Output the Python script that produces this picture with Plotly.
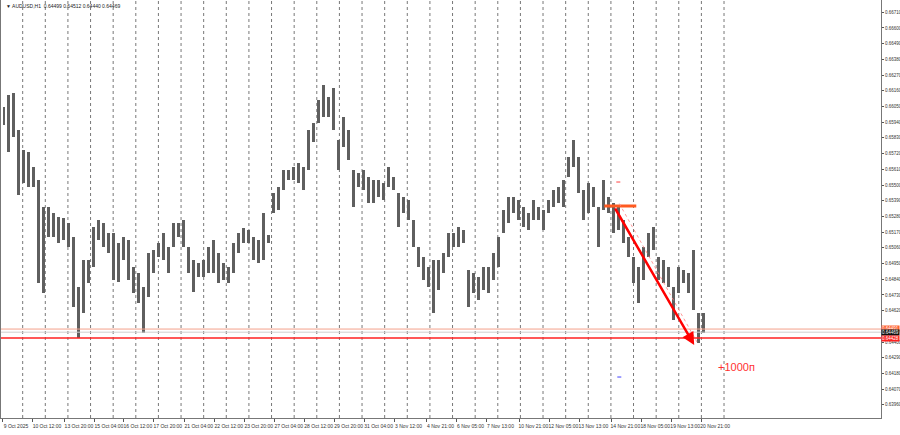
import plotly.graph_objects as go

highs = [0.66046,0.66130,0.66144,0.65885,0.65745,0.65731,0.65626,0.65535,0.65346,0.65346,
0.65304,0.65276,0.65269,0.65234,0.65136,0.64785,0.64974,0.64974,0.65206,0.65255,
0.65234,0.65164,0.65164,0.65094,0.65136,0.65115,0.64925,0.64883,0.64785,0.65023,
0.65044,0.65094,0.65164,0.65066,0.65234,0.65234,0.65255,0.65066,0.64974,0.64953,
0.64974,0.65066,0.65115,0.65023,0.64953,0.64925,0.65094,0.65164,0.65199,0.65185,
0.65136,0.65115,0.65304,0.65150,0.65444,0.65486,0.65605,0.65605,0.65626,0.65654,
0.65626,0.65885,0.65934,0.66095,0.66200,0.66116,0.66179,0.65815,0.65976,0.65885,
0.65605,0.65584,0.65605,0.65556,0.65535,0.65535,0.65514,0.65626,0.65556,0.65444,
0.65416,0.65395,0.65255,0.65066,0.64995,0.64925,0.64974,0.64974,0.65023,0.65164,
0.65164,0.65206,0.65185,0.64904,0.64883,0.64855,0.64925,0.64925,0.65023,0.65136,
0.65325,0.65416,0.65416,0.65395,0.65346,0.65304,0.65395,0.65346,0.65325,0.65395,
0.65465,0.65486,0.65535,0.65696,0.65815,0.65696,0.65465,0.65514,0.65486,0.65346,
0.65535,0.65416,0.65374,0.65346,0.65255,0.65136,0.64995,0.64925,0.65066,0.65164,
0.65206,0.64995,0.64974,0.64925,0.64785,0.64925,0.64904,0.64883,0.65044,0.64603,
0.64603]
lows = [0.65920,0.65731,0.65836,0.65430,0.65514,0.65486,0.65486,0.64813,0.64743,0.65136,
0.65136,0.65094,0.65115,0.65066,0.64645,0.64428,0.64603,0.64813,0.64925,0.65115,
0.65066,0.65023,0.64834,0.64820,0.64974,0.64834,0.64743,0.64673,0.64463,0.64715,
0.64883,0.64995,0.64974,0.64883,0.65066,0.65136,0.65066,0.64883,0.64750,0.64855,
0.64855,0.64883,0.64883,0.64813,0.64834,0.64813,0.64883,0.65023,0.65094,0.65094,
0.64974,0.64953,0.64974,0.65094,0.65304,0.65325,0.65465,0.65535,0.65535,0.65514,
0.65465,0.65605,0.65801,0.65934,0.65976,0.65976,0.65885,0.65605,0.65766,0.65675,
0.65346,0.65486,0.65465,0.65374,0.65374,0.65416,0.65395,0.65486,0.65465,0.65206,
0.65304,0.65255,0.65066,0.64925,0.64834,0.64785,0.64603,0.64764,0.64883,0.64995,
0.65066,0.65066,0.65094,0.64645,0.64743,0.64694,0.64764,0.64743,0.64834,0.64925,
0.65164,0.65234,0.65304,0.65255,0.65206,0.65185,0.65255,0.65255,0.65185,0.65304,
0.65346,0.65374,0.65346,0.65556,0.65626,0.65444,0.65255,0.65304,0.65346,0.65066,
0.65325,0.65304,0.65164,0.65185,0.65094,0.64995,0.64813,0.64673,0.64834,0.64995,
0.65044,0.64834,0.64813,0.64785,0.64554,0.64743,0.64813,0.64743,0.64624,0.64393,
0.64463]

tick_labels = ["9 Oct 2025","10 Oct 12:00","13 Oct 20:00","15 Oct 04:00","16 Oct 12:00",
"17 Oct 20:00","21 Oct 04:00","22 Oct 12:00","23 Oct 20:00","27 Oct 04:00","28 Oct 12:00",
"29 Oct 20:00","31 Oct 04:00","3 Nov 12:00","4 Nov 21:00","6 Nov 05:00","7 Nov 13:00",
"10 Nov 21:00","12 Nov 05:00","13 Nov 13:00","14 Nov 21:00","18 Nov 05:00","19 Nov 13:00",
"20 Nov 21:00"]
tick_pos = [-0.4,5.8,12.2,18.2,24.0,30.0,36.2,42.2,48.2,54.2,60.2,66.2,72.2,78.2,84.6,
90.6,96.6,103.2,109.2,115.2,121.6,127.6,133.6,139.6]
price_ticks = [0.63850,0.63960,0.64070,0.64180,0.64290,0.64400,0.64620,0.64730,0.64840,
0.64950,0.65060,0.65170,0.65280,0.65390,0.65500,0.65610,0.65720,0.65830,0.65940,0.66050,
0.66160,0.66270,0.66380,0.66490,0.66600,0.66710]
grid_pos = [3.74 + 4.53*k for k in range(32)]

ask_level = 0.64491
bid_level = 0.64469
red_level = 0.64428
arrow_start = (122.2, 0.65346)
arrow_end = (138.2, 0.64379)
entry_level = 0.65353

x = list(range(len(highs)))
fig = go.Figure()
fig.add_trace(go.Bar(x=x, base=lows, y=[h - l for h, l in zip(highs, lows)],
                     width=0.6, marker=dict(color="#5f5f5f", line=dict(width=0)),
                     hoverinfo="skip"))

shapes = []
for g in grid_pos:
    shapes.append(dict(type="line", xref="x", yref="paper", x0=g, x1=g, y0=0, y1=1,
                       line=dict(color="#555", width=0.8, dash="dot"), layer="below"))
for lvl, col, w in [(ask_level, "#f4a08a", 1), (bid_level, "#cfcfcf", 1), (red_level, "#ff2020", 1.6)]:
    shapes.append(dict(type="line", xref="paper", yref="y", x0=0, x1=1, y0=lvl, y1=lvl,
                       line=dict(color=col, width=w)))
shapes.append(dict(type="line", x0=120.2, x1=126.6, y0=entry_level, y1=entry_level,
                   line=dict(color="#ff5a20", width=3)))
shapes.append(dict(type="line", x0=123.2, x1=139.0, y0=0.65370, y1=0.64385,
                   line=dict(color="#ff8080", width=0.8, dash="dot")))
shapes.append(dict(type="line", x0=122.6, x1=123.4, y0=0.65521, y1=0.65521,
                   line=dict(color="#ff4040", width=1)))
shapes.append(dict(type="line", x0=122.8, x1=123.6, y0=0.64155, y1=0.64155,
                   line=dict(color="#4040ff", width=1)))
fig.update_layout(shapes=shapes)

fig.add_annotation(x=arrow_end[0], y=arrow_end[1], ax=arrow_start[0], ay=arrow_start[1],
                   xref="x", yref="y", axref="x", ayref="y", showarrow=True,
                   arrowhead=2, arrowsize=1, arrowwidth=2.5, arrowcolor="#ff0000", text="")
fig.add_annotation(x=146.6, y=0.64225, text="+1000п", showarrow=False,
                   font=dict(color="#ff3030", size=11, family="Liberation Sans"))
fig.add_annotation(xref="paper", yref="paper", x=0.003, y=0.998, xanchor="left", yanchor="top",
                   text="▼ AUDUSD,H1  0.64499 0.64512 0.64440 0.64469", showarrow=False,
                   font=dict(size=5, color="#222", family="Liberation Sans"))
for lvl, bg, fg, txt in [(ask_level + 0.00004, "#ff6030", "white", "0.64491"),
                          (bid_level, "#111111", "white", "0.64469"),
                          (red_level - 0.00002, "#ff2020", "white", "0.64428")]:
    fig.add_annotation(xref="paper", yref="y", x=1.0, y=lvl, xanchor="left", text=txt,
                       showarrow=False, bgcolor=bg, borderpad=0,
                       font=dict(size=4.5, color=fg, family="Liberation Sans"))

fig.update_layout(
    width=900, height=435, margin=dict(l=1, r=19, t=0, b=17, autoexpand=False),
    paper_bgcolor="white", plot_bgcolor="white", showlegend=False, bargap=0,
    xaxis=dict(range=[-0.6, 175.6], tickvals=tick_pos, ticktext=tick_labels,
               showgrid=False, zeroline=False, ticks="outside", ticklen=3, tickcolor="#555",
               tickangle=0, automargin=False,
               ticklabelshift=14, tickfont=dict(size=5, color="#333", family="Liberation Sans"),
               showline=True, linecolor="#777", mirror=True),
    yaxis=dict(range=[0.63868, 0.66796], side="right", tickvals=price_ticks,
               tickformat=".5f", showgrid=False, zeroline=False, ticks="outside",
               ticklen=2, tickcolor="#555", automargin=False,
               tickfont=dict(size=4.5, color="#333", family="Liberation Sans"),
               showline=True, linecolor="#777", mirror=True),
)
fig.write_html("out.html", config={"displayModeBar": False},
               post_script="document.body.style.margin='0';document.body.style.overflow='hidden';")
